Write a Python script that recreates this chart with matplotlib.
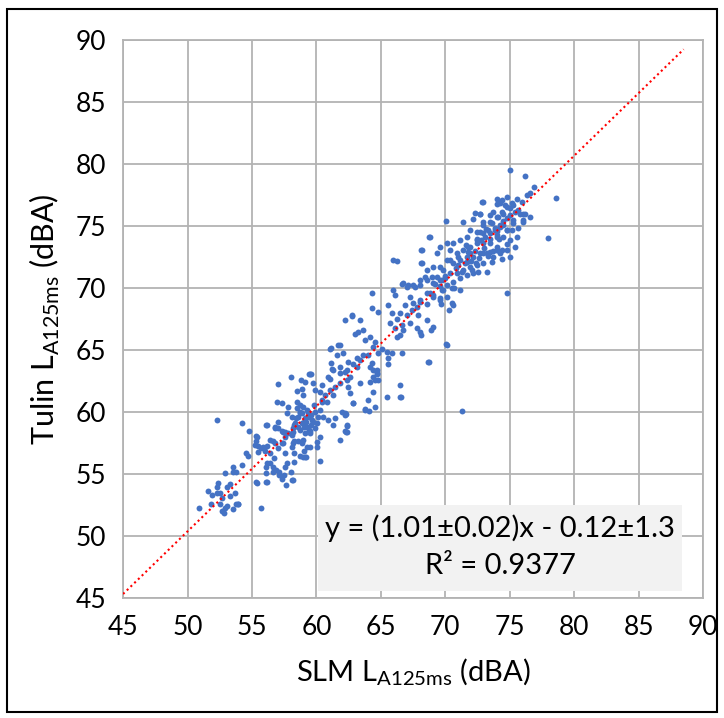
import matplotlib
matplotlib.use("Agg")
import matplotlib.pyplot as plt
from matplotlib.patches import Rectangle

plt.rcParams['font.family'] = ['Lato', 'DejaVu Sans']
plt.rcParams['mathtext.fontset'] = 'custom'
plt.rcParams['mathtext.rm'] = 'Lato'

# points (SLM, Tulin) in dBA
slm = [52.3, 54.2, 54.8, 56.1, 55.3, 55.3, 55.5, 55.7, 55.5, 54.5, 54.7, 54.2, 53.5, 53.8, 53.5, 52.9,
       52.4, 52.3, 52.3, 51.6, 51.9, 53.3, 53.1, 53.7, 53.3, 52.7, 52.5, 51.8, 52.5, 52.9, 53.1, 53.8,
       53.9, 53.5, 52.7, 52.8, 50.9, 55.7, 56.1, 56.2, 55.4, 56.1, 56.2, 56.4, 56.7, 56.6, 56.6, 56.9,
       57.1, 57.6, 57.5, 57.3, 58.0, 58.2, 57.7, 58.3, 56.8, 57.0, 57.3, 57.6, 57.8, 58.2, 58.3, 58.6,
       58.9, 58.1, 57.6, 56.8, 56.2, 56.0, 56.4, 57.0, 57.3, 56.6, 58.7, 59.1, 58.3, 59.0, 59.3, 59.1,
       59.5, 58.9, 58.3, 58.1, 58.7, 59.4, 59.7,
       61.1, 61.8, 61.6, 61.1, 61.2, 60.9, 59.5, 59.1, 58.0, 57.0, 58.5,
       58.86, 58.99, 59.76, 59.89, 60.41, 60.28, 60.67, 61.06, 61.44, 61.83, 62.22, 62.35, 62.61, 63.12,
       63.38, 64.03, 64.68, 64.81, 64.16, 63.38, 62.61, 62.48, 61.83, 61.31, 60.80, 60.41, 60.28, 60.54,
       60.93, 61.31, 61.96, 62.22, 62.87, 63.77, 64.03, 64.42, 62.35, 62.35, 61.83, 60.28, 60.02, 59.50,
       58.99, 58.21, 57.44, 56.40, 55.88, 55.37, 55.24, 56.14, 56.79, 57.05, 57.69, 58.34, 58.73, 59.12,
       58.73, 58.99, 59.38, 59.63, 59.89, 59.50, 56.92, 57.31, 57.82, 58.47, 58.73, 57.44, 58.08, 59.25,
       60.02, 58.6, 59.0, 59.2, 59.6, 59.0, 59.4, 58.6,
       64.29, 65.97, 66.10, 66.62, 67.13, 67.65, 68.04, 68.56, 68.94, 69.20, 69.59, 69.98, 70.11, 69.72,
       69.59, 69.07, 68.81, 68.56, 68.04, 67.78, 67.39, 67.00, 66.49, 66.23, 65.84, 65.58, 64.81, 64.29,
       62.74, 62.22, 63.38, 62.99, 63.25, 63.64, 63.77, 64.16, 64.55, 64.42, 65.06, 64.81, 65.45, 65.84,
       65.58, 65.58, 66.62, 66.74, 66.49, 66.23, 67.26, 67.78, 68.04, 68.56, 69.07, 67.91, 65.71, 66.10,
       63.64, 63.12, 62.87, 62.48, 62.35, 61.83, 61.31, 61.06, 61.70, 61.06, 62.09, 64.16, 64.68, 64.42,
       68.68, 70.11,
       72.83, 74.25, 74.77, 75.28, 74.51, 73.99, 75.02, 75.67, 76.06, 72.70, 71.40, 72.95, 73.47, 73.86,
       74.25, 74.77, 75.28, 75.67, 76.06, 75.54, 75.02, 74.51, 73.99, 73.47, 72.95, 72.44, 71.92, 71.66,
       71.14, 70.63, 70.11, 69.59, 68.82, 68.17, 68.17, 69.33, 70.37, 70.89, 71.40, 71.92, 72.44, 72.95,
       73.47, 73.99, 74.25, 73.73, 73.21, 72.70, 72.18, 71.66, 71.14, 70.63, 70.11, 69.59, 69.08, 68.56,
       68.43, 68.04, 67.52, 67.01, 66.75, 69.33, 69.72, 69.08, 69.85, 70.37, 70.89, 71.40, 71.92, 72.44,
       72.95, 73.60, 72.18, 71.66, 71.14, 70.63, 69.85, 70.11, 69.59, 69.08, 68.56, 68.04, 67.52, 67.27,
       66.88, 74.77, 73.99, 74.77, 75.41, 73.21, 71.14, 70.50, 70.50, 71.66, 72.57, 71.01, 71.79,
       75.02, 76.19, 76.91, 76.57, 76.32, 78.6, 72.90, 73.99, 74.38, 74.76, 75.54, 75.93, 75.15, 74.64,
       73.99, 75.02, 74.38, 75.41, 75.80, 76.19, 76.57, 76.06, 75.28, 74.76, 74.12, 73.47, 72.70, 72.31,
       72.18, 72.95, 73.60, 74.25, 73.86, 73.34, 72.70, 72.44, 73.08, 73.99, 74.76, 75.15, 74.76, 74.38,
       73.99, 73.47, 72.95, 75.02, 74.38, 78.0, 74.51, 73.73,
       69.67, 70.60, 70.29, 70.06, 68.74, 71.30, 66.65, 66.5, 66.57, 68.9, 68.1,
       70.06, 68.74, 65.95, 66.26, 68.12, 68.12, 62.77, 59.43, 59.6, 58.8, 65.48, 66.49, 63.77, 64.08,
       64.55, 62.22, 62.22, 62.38, 61.45, 62.84, 62.3, 62.3, 60.28, 60.05, 58.96, 59.2, 58.1, 57.65,
       57.1, 56.1, 55.3, 53.9, 64.4, 64.7, 64.55, 64.3,
       71.0, 71.5, 72.0, 72.3, 72.6, 73.0, 73.3, 71.8, 72.1, 70.8, 71.3, 72.8, 73.5, 74.0, 74.5, 73.2,
       72.5, 71.6, 70.4, 70.0, 69.6, 70.7, 71.9, 72.4, 73.7, 74.2,
       58.4, 58.9, 59.3, 59.8, 59.1, 58.2, 59.6, 60.1, 58.5, 59.9, 57.6, 60.4]
tulin = [59.4, 59.1, 58.5, 59.0, 58.1, 57.7, 57.3, 57.1, 56.8, 56.7, 56.5, 55.7, 55.6, 55.2, 55.2, 55.1,
         54.3, 54.0, 53.5, 53.6, 53.3, 54.2, 54.0, 53.5, 53.2, 53.1, 53.5, 52.6, 52.6, 52.3, 52.4, 52.6,
         52.6, 52.2, 52.0, 51.9, 52.3, 52.3, 55.1, 54.4, 54.3, 55.6, 55.9, 55.9, 56.3, 55.6, 55.2, 55.3,
         55.2, 55.6, 54.9, 54.6, 55.2, 54.5, 55.9, 56.0, 58.8, 58.7, 58.5, 58.0, 58.3, 58.4, 57.7, 57.7,
         57.5, 57.2, 56.7, 57.5, 57.3, 56.9, 56.7, 57.1, 57.5, 57.7, 56.5, 56.4, 56.7, 56.9, 57.2, 58.3,
         58.5, 59.1, 59.0, 59.6, 59.9, 59.6, 59.2,
         65.2, 65.4, 64.6, 64.0, 63.5, 62.8, 63.1, 62.4, 62.8, 62.3, 61.7,
         61.83, 61.37, 62.32, 61.78, 62.18, 61.64, 61.37, 61.78, 62.05, 63.12, 63.26, 62.58, 62.85, 63.66,
         64.20, 64.60, 63.39, 62.58, 62.45, 62.32, 61.51, 62.05, 62.32, 61.37, 60.84, 60.97, 60.16, 59.63,
         59.36, 58.96, 60.03, 59.76, 60.70, 60.16, 60.97, 61.64, 58.96, 58.42, 57.75, 58.01, 57.61, 57.21,
         57.75, 57.48, 57.48, 57.75, 57.21, 58.01, 57.34, 58.96, 58.69, 59.22, 59.90, 59.09, 58.55, 59.49,
         60.03, 60.43, 60.03, 59.36, 58.69, 58.28, 60.84, 60.70, 60.43, 60.84, 60.57, 58.42, 58.15, 58.82,
         59.09, 59.63, 59.22, 59.22, 58.96, 58.82, 58.55, 58.82,
         69.57, 69.84, 69.43, 70.37, 70.24, 70.11, 70.24, 70.64, 70.91, 70.37, 70.64, 70.78, 70.24, 69.84,
         69.03, 69.30, 69.57, 68.76, 68.90, 68.49, 68.22, 67.82, 67.96, 67.55, 67.96, 68.63, 68.09, 68.36,
         67.82, 67.47, 67.42, 66.34, 66.48, 66.61, 65.80, 66.07, 65.67, 65.27, 65.13, 64.73, 64.86, 64.73,
         64.33, 63.92, 67.01, 66.61, 66.21, 66.07, 67.15, 66.75, 66.48, 67.42, 66.88, 67.82, 67.15, 66.75,
         64.60, 64.33, 63.92, 64.06, 63.39, 63.65, 63.39, 62.71, 65.40, 65.13, 64.73, 63.65, 63.12, 62.85,
         64.06, 65.40,
         76.97, 76.83, 76.56, 76.70, 76.02, 75.76, 75.89, 76.29, 76.02, 75.97, 75.35, 75.08, 75.35, 74.82,
         74.95, 74.68, 75.22, 74.82, 75.49, 74.14, 73.87, 74.14, 74.14, 74.41, 74.41, 74.55, 74.68, 74.14,
         73.87, 73.61, 73.61, 73.34, 74.14, 73.07, 71.99, 72.80, 73.07, 72.80, 73.07, 73.34, 73.61, 73.61,
         73.61, 73.34, 72.80, 72.53, 72.80, 72.80, 72.53, 72.53, 72.26, 71.99, 72.26, 71.72, 71.72, 71.45,
         70.92, 70.65, 70.25, 70.11, 70.38, 70.92, 70.65, 70.38, 71.45, 71.19, 71.19, 71.45, 71.72, 71.86,
         71.99, 72.13, 71.19, 71.05, 70.78, 70.51, 69.84, 69.30, 69.17, 69.44, 69.57, 69.04, 68.77, 69.30,
         68.63, 69.57, 73.07, 73.07, 73.34, 71.32, 69.84, 68.77, 69.98, 72.13, 71.32, 71.86, 72.93,
         79.57, 79.03, 78.17, 77.64, 77.50, 77.29, 76.96, 77.23, 77.10, 77.37, 77.23, 76.96, 76.83, 76.70,
         76.78, 76.43, 76.16, 76.16, 76.02, 76.02, 75.75, 75.35, 75.48, 75.62, 75.75, 75.89, 76.02, 76.08,
         75.54, 75.35, 75.22, 75.08, 74.68, 74.68, 74.54, 73.87, 74.14, 74.28, 74.68, 74.68, 73.60, 73.07,
         73.07, 72.93, 72.80, 72.53, 72.39, 74.06, 75.08, 76.16,
         68.71, 68.63, 68.23, 65.48, 64.03, 60.08, 64.76, 62.2, 61.21, 66.6, 66.2,
         75.4, 74.1, 72.26, 72.18, 73.06, 72.02, 67.74, 63.1, 63.06, 62.6, 61.21, 61.2, 60.24, 60.08,
         60.4, 59.92, 58.47, 58.87, 59.52, 60.7, 59.84, 58.4, 56.05, 57.2, 56.37, 56.37, 54.5, 54.1,
         54.9, 54.4, 54.4, 52.6, 63.4, 63.1, 62.6, 63.95,
         72.5, 72.0, 72.2, 73.0, 72.4, 73.2, 72.6, 73.3, 71.5, 71.6, 71.3, 73.9, 74.0, 74.6, 75.4, 74.8,
         74.0, 73.5, 72.3, 71.0, 70.2, 70.0, 72.8, 72.0, 73.0, 74.0,
         59.5, 59.9, 60.2, 60.6, 58.9, 58.7, 59.8, 59.6, 60.3, 60.0, 58.4, 60.8]

slope, intercept = 1.01, -0.12
fit_x = [45, 88.5]

fig = plt.figure(figsize=(7.24, 7.18), dpi=100)
ax = fig.add_axes([0.170, 0.167, 0.801, 0.777])

ax.scatter(slm, tulin, s=18, color='#4472C4', zorder=3, linewidths=0)
ax.plot(fit_x, [slope * v + intercept for v in fit_x], color='red', linestyle=(0, (1, 1.5)),
        linewidth=1.5, zorder=4)

ax.set_xlim(45, 90)
ax.set_ylim(45, 90)
ax.set_xticks(range(45, 91, 5))
ax.set_yticks(range(45, 91, 5))
ax.grid(True, color='#b3b3b3', linewidth=1.3, zorder=0)
ax.set_axisbelow(True)
for s in ax.spines.values():
    s.set_color('#b3b3b3')
    s.set_linewidth(1.3)
ax.tick_params(length=0, labelsize=19, pad=12)

ax.set_xlabel(r'SLM L$_{\mathregular{A125ms}}$ (dBA)', fontsize=21, labelpad=12)
ax.set_ylabel(r'Tulin L$_{\mathregular{A125ms}}$ (dBA)', fontsize=22, labelpad=10)

# equation box
ax.add_patch(Rectangle((60.1, 45.6), 28.3, 6.9, facecolor='#f2f2f2', edgecolor='none', zorder=5))
ax.text(74.25, 50.6, 'y = (1.01±0.02)x - 0.12±1.3', ha='center', va='center', fontsize=21, zorder=6)
ax.text(74.25, 47.6, 'R² = 0.9377', ha='center', va='center', fontsize=21, zorder=6)

# outer border
fig.patches.append(Rectangle((0.009, 0.008), 0.982, 0.979, transform=fig.transFigure,
                             fill=False, edgecolor='black', linewidth=1.5))

fig.savefig('out.png', dpi=100)
